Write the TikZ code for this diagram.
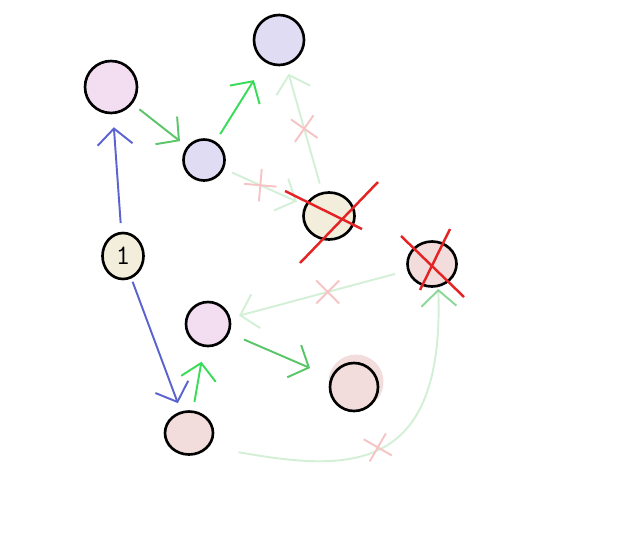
\documentclass[tikz,border=0pt]{standalone}
\usepackage{tikz}
\usetikzlibrary{arrows.meta}
\usetikzlibrary{calc}
\usetikzlibrary{shapes}
\usetikzlibrary{positioning}

\definecolor{pinkfill}{HTML}{F3DDF1}
\definecolor{lavfill}{HTML}{DFDCF3}
\definecolor{beigefill}{HTML}{F2EEDB}
\definecolor{rosefill}{HTML}{F2DCDC}
\definecolor{bluearrow}{HTML}{5A63D0}
\definecolor{midgreen}{HTML}{5CC46A}
\definecolor{brightgreen}{HTML}{3ADB58}
\definecolor{fadegreen}{HTML}{D3F0D6}
\definecolor{fadered}{HTML}{F6C4C4}
\definecolor{strikered}{HTML}{E42424}

\tikzset{
  blob/.style={circle, draw=black, line width=1.5pt, inner sep=0pt, minimum size=1cm},
  small blob/.style={blob, minimum size=0.82cm},
  flow/.style={line width=1.1pt, -{Straight Barb[length=3.2mm, width=7mm]}, shorten <=5pt, shorten >=5pt},
  faded/.style={flow, fadegreen},
  xmark/.style={cross out, draw=fadered, line width=1.1pt, minimum size=0.42cm, inner sep=0pt,
                -, shorten <=0pt, shorten >=0pt},
  strike/.style={strikered, line width=1.4pt},
}

\begin{document}
\begin{tikzpicture}[scale=1.0]
\useasboundingbox (0,0) rectangle (12.8,10.7);

% nodes
\node[blob, fill=pinkfill, minimum size=1.04cm] (top) at (2.22, 8.96) {};
\node[small blob, fill=lavfill] (mid) at (4.08, 7.50) {};
\node[blob, fill=lavfill] (peak) at (5.58, 9.90) {};
\node[blob, ellipse, fill=beigefill, minimum width=1.02cm, minimum height=0.94cm] (deadone) at (6.58, 6.38) {};
\node[blob, ellipse, fill=beigefill, minimum width=0.82cm, minimum height=0.92cm,
      font=\fontsize{16}{16}\selectfont\ttfamily] (root) at (2.46, 5.58) {1};
\node[blob, ellipse, fill=rosefill, minimum width=0.98cm, minimum height=0.9cm] (deadtwo) at (8.64, 5.42) {};
\node[small blob, fill=pinkfill, minimum height=0.88cm] (left) at (4.16, 4.22) {};
\fill[rosefill] (7.12, 3.06) circle (0.55);
\node[blob, fill=rosefill, minimum size=0.96cm] (right) at (7.08, 2.96) {};
\node[blob, ellipse, fill=rosefill, minimum width=0.96cm, minimum height=0.86cm] (low) at (3.78, 2.04) {};

% live edges
\draw[flow, bluearrow, shorten >=0.26cm] (root) -- (top);
\draw[flow, bluearrow, shorten <=2pt] (root) -- (low);
\draw[flow, midgreen] (top) -- (mid);
\draw[flow, brightgreen, shorten >=0.42cm] (mid) -- (peak);
\draw[flow, brightgreen, shorten >=0.3cm] (low) -- (left);
\draw[flow, midgreen!90!brightgreen, shorten <=0.32cm, shorten >=0.45cm] (left) -- (right);

% cut edges
\draw[faded] (mid) -- node[xmark, pos=0.45, rotate=40] {} (deadone);
\draw[faded] (deadone) -- node[xmark, pos=0.5, rotate=10] {} (peak);
\draw[faded, shorten <=0.25cm] (deadtwo) -- node[xmark, pos=0.45] {} (left);
\draw[faded, -{Straight Barb[length=3.2mm, width=7mm, color=midgreen!70]}, shorten <=0.6cm, shorten >=1pt]
  (low.-35) .. controls +(-10:2.8) and +(-88:3.8) .. node[xmark, pos=0.5, rotate=15] {} (deadtwo.-75);

% strikes
\draw[strike] ($(deadone)+(-0.58,-0.94)$) -- ($(deadone)+(0.98,0.68)$);
\draw[strike] ($(deadone)+(-0.88,0.50)$) -- ($(deadone)+(0.66,-0.26)$);
\draw[strike] ($(deadtwo)+(-0.62,0.56)$) -- ($(deadtwo)+(0.64,-0.66)$);
\draw[strike] ($(deadtwo)+(0.36,0.70)$) -- ($(deadtwo)+(-0.24,-0.52)$);
\end{tikzpicture}
\end{document}
